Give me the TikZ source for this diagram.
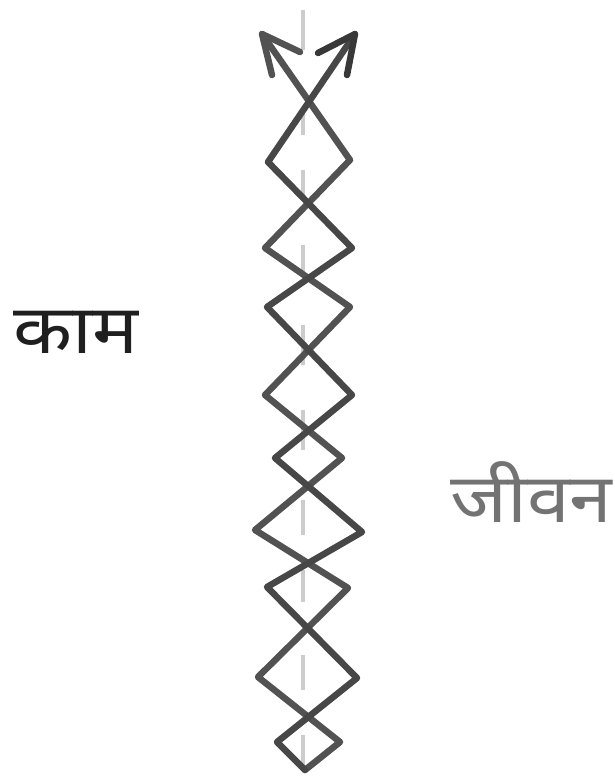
\documentclass[tikz,border=0pt]{standalone}
\usepackage{fontspec}
\newfontfamily\deva[Script=Devanagari]{Noto Sans}
\begin{document}
\begin{tikzpicture}[x=1pt,y=-1pt,
  strand/.style={draw=black!68,line width=6.5pt,line join=round,line cap=round},
  axisdash/.style={draw=black!20,line width=3.2pt},
  lbl/.style={inner sep=0pt,anchor=base west,xscale=1.13}]
\useasboundingbox (0,0) rectangle (614,778);
% centre axis dashes
\foreach \a/\b in {10/50,110/135,170/200,245/275,325/365,410/450,500/535,570/602,655/690,735/765}
  \draw[axisdash] (303,\a) -- (303,\b);
% strand A
\draw[strand] (262,34) -- (350,160) -- (265,248) -- (350,307) -- (265,395) -- (342,458) -- (255,530) -- (348,588) -- (258,677) -- (340,742) -- (305,770);
% strand B
\draw[strand,draw=black!72] (355,34) -- (268,162) -- (352,248) -- (267,307) -- (352,395) -- (275,458) -- (362,532) -- (267,587) -- (357,678) -- (277,742) -- (305,770);
% arrowheads
\draw[strand] (300,52) -- (262,34) -- (272,75);
\draw[strand,draw=black!78] (318,53) -- (355,34) -- (347,75);
% labels
\node[lbl,text=black!88] (kaam) at (13,353) {\deva\fontsize{68}{68}\selectfont काम};
\node[lbl,text=black!55] (jeevan) at (450,522) {\deva\fontsize{68}{68}\selectfont जीवन};
\end{tikzpicture}
\end{document}
